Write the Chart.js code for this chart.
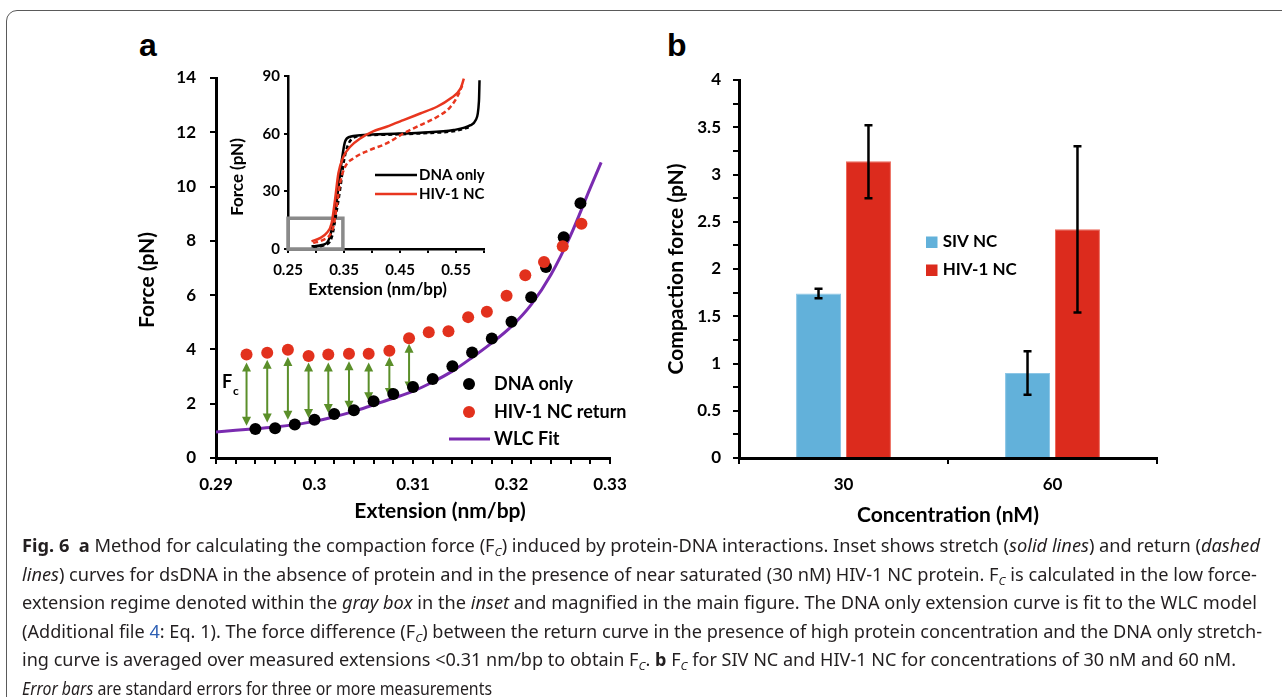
<!DOCTYPE html>
<html>
<head>
<meta charset="utf-8">
<script src="https://cdn.jsdelivr.net/npm/chart.js@4.4.0/dist/chart.umd.min.js"></script>
<style>
body { margin: 0; background: #fff; width: 1282px; height: 697px; overflow: hidden; position: relative; font-family: 'Noto Sans', sans-serif; }
.frame { position: absolute; left: 6px; top: 10px; width: 1310px; height: 730px; border: 1.5px solid #5a5a5a; border-radius: 11px; box-sizing: border-box; }
canvas { position: absolute; }
.panel { position: absolute; font: bold 32px 'Liberation Sans', Arial, sans-serif; line-height: 32px; color: #000; }
.cap { position: absolute; left: 22px; white-space: nowrap; font-size: 17.5px; line-height: 28px; transform-origin: 0 50%; color: #231f20; }
.cap .sub { font-size: 11.5px; font-style: italic; position: relative; top: 4px; }
.cap .lnk { color: #2d5fb4; }
</style>
</head>
<body>
<div class="frame"></div>
<div class="panel" style="left:139px;top:29px">a</div>
<div class="panel" style="left:667px;top:29px">b</div>

<canvas id="chartA" width="650" height="540" style="left:0;top:0"></canvas>
<canvas id="inset" width="300" height="250" style="left:200px;top:60px"></canvas>
<canvas id="chartB" width="560" height="500" style="left:640px;top:40px"></canvas>

<div class="cap" data-w="1238" style="top:531px"><b>Fig. 6</b>&nbsp; <b>a</b> Method for calculating the compaction force (F<span class="sub">C</span>) induced by protein-DNA interactions. Inset shows stretch (<i>solid lines</i>) and return (<i>dashed</i></div>
<div class="cap" data-w="1235" style="top:559.5px"><i>lines</i>) curves for dsDNA in the absence of protein and in the presence of near saturated (30 nM) HIV-1 NC protein. F<span class="sub">C</span> is calculated in the low force-</div>
<div class="cap" data-w="1235" style="top:588px">extension regime denoted within the <i>gray box</i> in the <i>inset</i> and magnified in the main figure. The DNA only extension curve is fit to the WLC model</div>
<div class="cap" data-w="1240" style="top:616.5px">(Additional file <span class="lnk">4</span>: Eq. 1). The force difference (F<span class="sub">C</span>) between the return curve in the presence of high protein concentration and the DNA only stretch-</div>
<div class="cap" data-w="1214" style="top:645px">ing curve is averaged over measured extensions &lt;0.31 nm/bp to obtain F<span class="sub">C</span>. <b>b</b> F<span class="sub">C</span> for SIV NC and HIV-1 NC for concentrations of 30 nM and 60 nM.</div>
<div class="cap" data-w="470" style="top:673.5px"><i>Error bars</i> are standard errors for three or more measurements</div>

<script>
// panel a: low force region
const dnaX = [0.294, 0.296, 0.298, 0.300, 0.302, 0.304, 0.306, 0.308, 0.310, 0.312, 0.314, 0.316, 0.318, 0.320, 0.322, 0.3235, 0.3253, 0.327];
const dnaForce = [1.07, 1.10, 1.23, 1.41, 1.62, 1.76, 2.09, 2.36, 2.62, 2.91, 3.38, 3.89, 4.40, 5.02, 5.92, 7.04, 8.13, 9.39];
const ncX = [0.2931, 0.2952, 0.2973, 0.2994, 0.3014, 0.3035, 0.3055, 0.3076, 0.3096, 0.3116, 0.3136, 0.3156, 0.3175, 0.3195, 0.3214, 0.3233, 0.3252, 0.3271];
const ncForce = [3.81, 3.88, 3.99, 3.76, 3.81, 3.84, 3.84, 3.95, 4.41, 4.63, 4.67, 5.19, 5.39, 5.98, 6.73, 7.22, 7.80, 8.63];
const wlcX = [0.290, 0.292, 0.294, 0.296, 0.298, 0.300, 0.302, 0.304, 0.306, 0.308, 0.310, 0.312, 0.314, 0.316, 0.318, 0.320, 0.322, 0.324, 0.326, 0.328, 0.3291];
const wlcForce = [0.96, 1.02, 1.08, 1.14, 1.23, 1.35, 1.52, 1.72, 1.96, 2.20, 2.46, 2.80, 3.20, 3.70, 4.24, 4.85, 5.65, 6.75, 8.20, 9.95, 10.89];
// F_c arrows (ends), one per low-extension return point
const fcTop = [3.52, 3.62, 3.72, 3.52, 3.52, 3.56, 3.52, 3.72, 4.21];
const fcBottom = [1.19, 1.31, 1.41, 1.47, 1.66, 1.78, 2.09, 2.25, 2.49];

// inset: full stretch / return curves
const dnaStretchX = [0.292, 0.313, 0.325, 0.334, 0.340, 0.346, 0.352, 0.361, 0.379, 0.426, 0.486, 0.546, 0.576, 0.585, 0.591, 0.592];
const dnaStretchF = [1.4, 2.2, 6.4, 20, 32, 46, 56, 58.4, 59.2, 59.8, 60.5, 61.9, 64.4, 67, 77, 87.8];
const dnaReturnX = [0.295, 0.315, 0.328, 0.337, 0.344, 0.350, 0.357, 0.367, 0.385, 0.430, 0.490, 0.550, 0.575];
const dnaReturnF = [1.2, 2.0, 6.0, 20, 33, 46, 54, 57.8, 59.0, 59.5, 60.2, 61.5, 63.5];
const hivStretchX = [0.292, 0.307, 0.319, 0.328, 0.334, 0.340, 0.349, 0.361, 0.379, 0.402, 0.426, 0.456, 0.486, 0.516, 0.540, 0.558, 0.564];
const hivStretchF = [4.0, 5.7, 8.3, 13.5, 25.6, 39.4, 48, 53.2, 57.5, 61.2, 63.6, 67, 70.5, 74, 78.3, 83.4, 88.6];
const hivReturnX = [0.295, 0.313, 0.325, 0.331, 0.337, 0.343, 0.352, 0.367, 0.396, 0.426, 0.456, 0.486, 0.516, 0.540, 0.555, 0.561];
const hivReturnF = [3.1, 4.8, 7.4, 11.7, 22, 34.2, 42.8, 47.2, 51.5, 54.9, 60.1, 64.4, 68.7, 73.9, 80.8, 85.1];
const boxX = [0.25, 0.348];
const boxForce = [0, 16];

// panel b
const concentrations = ['30', '60'];
const sivForce = [1.74, 0.90];
const hivForce = [3.14, 2.42];
const sivErrLow = [1.69, 0.67];
const sivErrHigh = [1.79, 1.13];
const hivErrLow = [2.75, 1.54];
const hivErrHigh = [3.52, 3.30];

const RED = '#e2311d';
const PURPLE = '#7a2bb0';
const GREEN = '#5b8f2a';
const BLUE_BAR = '#62b1da';
const RED_BAR = '#dc2b1d';

Chart.defaults.font.family = 'Lato';
Chart.defaults.font.weight = 'bold';
Chart.defaults.color = '#000';

const pts = (xs, ys) => xs.map((x, i) => ({ x: x, y: ys[i] }));

function axisStyle(tickLen, borderW) {
    return {
        grid: { drawOnChartArea: false, color: '#000', lineWidth: 2, tickLength: tickLen },
        border: { color: '#000', width: borderW }
    };
}

function rotatedText(ctx, text, x, y) {
    ctx.save();
    ctx.translate(x, y);
    ctx.rotate(-Math.PI / 2);
    ctx.textAlign = 'center';
    ctx.textBaseline = 'middle';
    ctx.fillText(text, 0, 0);
    ctx.restore();
}

const annotA = {
    id: 'annotA',
    beforeDatasetsDraw(chart) {
        const { ctx, scales: { x, y } } = chart;
        ctx.save();
        ctx.strokeStyle = GREEN;
        ctx.fillStyle = GREEN;
        ctx.lineWidth = 2;
        const head = (px, py, dir) => {
            ctx.beginPath();
            ctx.moveTo(px, py);
            ctx.lineTo(px - 4.5, py + dir * 9);
            ctx.lineTo(px + 4.5, py + dir * 9);
            ctx.closePath();
            ctx.fill();
        };
        fcTop.forEach((top, i) => {
            const px = x.getPixelForValue(ncX[i]);
            const y1 = y.getPixelForValue(top);
            const y2 = y.getPixelForValue(fcBottom[i]);
            ctx.beginPath();
            ctx.moveTo(px, y1 + 8);
            ctx.lineTo(px, y2 - 8);
            ctx.stroke();
            head(px, y1, 1);
            head(px, y2, -1);
        });
        ctx.restore();
    },
    afterDraw(chart) {
        const ctx = chart.ctx;
        ctx.save();
        ctx.fillStyle = '#000';
        ctx.font = 'bold 21px Lato';
        ctx.textAlign = 'center';
        ctx.textBaseline = 'middle';
        ctx.fillText('Extension (nm/bp)', 440, 511);
        rotatedText(ctx, 'Force (pN)', 147, 280);

        // F_c label
        ctx.textAlign = 'left';
        ctx.font = 'bold 18px Lato';
        ctx.fillText('F', 222, 382);
        ctx.font = 'bold 12px Lato';
        ctx.fillText('c', 233, 391);

        // legend
        ctx.font = 'bold 18px Lato';
        ctx.beginPath();
        ctx.arc(469, 384, 6, 0, Math.PI * 2);
        ctx.fill();
        ctx.fillText('DNA only', 494, 384);
        ctx.fillStyle = RED;
        ctx.beginPath();
        ctx.arc(469, 412, 6, 0, Math.PI * 2);
        ctx.fill();
        ctx.fillStyle = '#000';
        ctx.fillText('HIV-1 NC return', 494, 412);
        ctx.strokeStyle = PURPLE;
        ctx.lineWidth = 3;
        ctx.beginPath();
        ctx.moveTo(449, 439);
        ctx.lineTo(490, 439);
        ctx.stroke();
        ctx.fillText('WLC Fit', 494, 439);
        ctx.restore();
    }
};

new Chart(document.getElementById('chartA'), {
    type: 'scatter',
    data: {
        datasets: [
            { label: 'HIV-1 NC return', data: pts(ncX, ncForce), backgroundColor: RED, borderWidth: 0, pointRadius: 6 },
            { label: 'DNA only', data: pts(dnaX, dnaForce), backgroundColor: '#000', borderWidth: 0, pointRadius: 6 },
            { label: 'WLC Fit', data: pts(wlcX, wlcForce), showLine: true, borderColor: PURPLE, borderWidth: 3, pointRadius: 0, cubicInterpolationMode: 'monotone' }
        ]
    },
    options: {
        responsive: false,
        animation: false,
        layout: { padding: { left: 136, top: 78, right: 40, bottom: 22 } },
        plugins: { legend: { display: false }, tooltip: { enabled: false } },
        scales: {
            x: {
                type: 'linear', min: 0.29, max: 0.33,
                ...axisStyle(6, 3),
                ticks: {
                    stepSize: 0.002, autoSkip: false, maxRotation: 0, padding: 10,
                    font: { size: 17 },
                    callback: v => { const k = Math.round(v * 1000); return k % 10 === 0 ? String(k / 1000) : ''; }
                },
                afterFit: s => { s.height = 60; }
            },
            y: {
                min: 0, max: 14,
                ...axisStyle(6, 3),
                ticks: { stepSize: 2, padding: 14, font: { size: 17 } },
                afterFit: s => { s.width = 80; }
            }
        }
    },
    plugins: [annotA]
});

const annotInset = {
    id: 'annotInset',
    beforeDatasetsDraw(chart) {
        const { ctx, scales: { x, y } } = chart;
        const x0 = x.getPixelForValue(boxX[0]), x1 = x.getPixelForValue(boxX[1]);
        const y0 = y.getPixelForValue(boxForce[0]), y1 = y.getPixelForValue(boxForce[1]);
        ctx.save();
        ctx.strokeStyle = '#8a8a8a';
        ctx.lineWidth = 3.5;
        ctx.strokeRect(x0, y1, x1 - x0, y0 - y1);
        ctx.restore();
    },
    afterDraw(chart) {
        const ctx = chart.ctx;
        ctx.save();
        ctx.fillStyle = '#000';
        ctx.font = 'bold 17px Lato';
        ctx.textAlign = 'center';
        ctx.textBaseline = 'middle';
        ctx.fillText('Extension (nm/bp)', 177.5, 230);
        rotatedText(ctx, 'Force (pN)', 38, 117);
        ctx.textAlign = 'left';
        ctx.font = 'bold 15px Lato';
        ctx.lineWidth = 2.5;
        ctx.strokeStyle = '#000';
        ctx.beginPath(); ctx.moveTo(175, 115); ctx.lineTo(217, 115); ctx.stroke();
        ctx.fillText('DNA only', 219, 115);
        ctx.strokeStyle = '#e8361f';
        ctx.beginPath(); ctx.moveTo(175, 134); ctx.lineTo(217, 134); ctx.stroke();
        ctx.fillText('HIV-1 NC', 219, 134);
        ctx.restore();
    }
};

const curve = (xs, ys, color, dash) => ({
    data: pts(xs, ys), showLine: true, borderColor: color, borderWidth: 2.5, borderDash: dash,
    pointRadius: 0, cubicInterpolationMode: 'monotone'
});

new Chart(document.getElementById('inset'), {
    type: 'scatter',
    data: {
        datasets: [
            curve(hivStretchX, hivStretchF, '#e8361f', []),
            curve(hivReturnX, hivReturnF, '#e8361f', [5, 3]),
            curve(dnaStretchX, dnaStretchF, '#000', []),
            curve(dnaReturnX, dnaReturnF, '#000', [4, 3])
        ]
    },
    options: {
        responsive: false,
        animation: false,
        layout: { padding: { left: 48, top: 16, right: 16, bottom: 21 } },
        plugins: { legend: { display: false }, tooltip: { enabled: false } },
        scales: {
            x: {
                type: 'linear', min: 0.25, max: 0.6,
                ...axisStyle(4, 2.5),
                ticks: {
                    stepSize: 0.05, autoSkip: false, maxRotation: 0, padding: 8,
                    font: { size: 15 },
                    callback: v => { const k = Math.round(v * 100); return k % 10 === 5 ? (k / 100).toFixed(2) : ''; }
                },
                afterFit: s => { s.height = 40; }
            },
            y: {
                min: 0, max: 90,
                ...axisStyle(4, 2.5),
                ticks: { stepSize: 30, padding: 4, font: { size: 15 } },
                afterFit: s => { s.width = 40; }
            }
        }
    },
    plugins: [annotInset]
});

const annotB = {
    id: 'annotB',
    afterDatasetsDraw(chart) {
        const { ctx, scales: { y } } = chart;
        const errs = [[sivErrLow, sivErrHigh], [hivErrLow, hivErrHigh]];
        ctx.save();
        ctx.strokeStyle = '#000';
        ctx.lineWidth = 2.5;
        errs.forEach(([lo, hi], d) => {
            chart.getDatasetMeta(d).data.forEach((bar, i) => {
                const yl = y.getPixelForValue(lo[i]);
                const yh = y.getPixelForValue(hi[i]);
                ctx.beginPath();
                ctx.moveTo(bar.x, yl); ctx.lineTo(bar.x, yh);
                ctx.moveTo(bar.x - 4, yl); ctx.lineTo(bar.x + 4, yl);
                ctx.moveTo(bar.x - 4, yh); ctx.lineTo(bar.x + 4, yh);
                ctx.stroke();
            });
        });
        ctx.restore();
    },
    afterDraw(chart) {
        const ctx = chart.ctx;
        ctx.save();
        ctx.fillStyle = '#000';
        ctx.font = 'bold 21px Lato';
        ctx.textAlign = 'center';
        ctx.textBaseline = 'middle';
        ctx.fillText('Concentration (nM)', 308, 475);
        rotatedText(ctx, 'Compaction force (pN)', 36.7, 229);
        ctx.textAlign = 'left';
        ctx.font = 'bold 17px Lato';
        ctx.fillStyle = BLUE_BAR;
        ctx.fillRect(286, 196.5, 11.5, 11.5);
        ctx.fillStyle = RED_BAR;
        ctx.fillRect(286, 224.5, 11.5, 11.5);
        ctx.fillStyle = '#000';
        ctx.fillText('SIV NC', 302.7, 202);
        ctx.fillText('HIV-1 NC', 302.7, 230);
        ctx.restore();
    }
};

new Chart(document.getElementById('chartB'), {
    type: 'bar',
    data: {
        labels: concentrations,
        datasets: [
            { label: 'SIV NC', data: sivForce, backgroundColor: BLUE_BAR, borderColor: '#8cc6e6', borderWidth: 1, categoryPercentage: 0.478, barPercentage: 0.9 },
            { label: 'HIV-1 NC', data: hivForce, backgroundColor: RED_BAR, borderColor: '#ec6a5c', borderWidth: 1, categoryPercentage: 0.478, barPercentage: 0.9 }
        ]
    },
    options: {
        responsive: false,
        animation: false,
        layout: { padding: { left: 39, top: 40, right: 43, bottom: 32 } },
        plugins: { legend: { display: false }, tooltip: { enabled: false } },
        scales: {
            x: {
                ...axisStyle(6, 3),
                grid: { drawOnChartArea: false, color: '#000', lineWidth: 2, tickLength: 6, offset: true },
                ticks: { padding: 10, font: { size: 17 } },
                afterFit: s => { s.height = 50; }
            },
            y: {
                min: 0, max: 4,
                ...axisStyle(6, 3),
                ticks: {
                    stepSize: 0.25, autoSkip: false, padding: 12, font: { size: 17 },
                    callback: v => (Math.round(v * 4) % 2 === 0 ? String(v) : '')
                },
                afterFit: s => { s.width = 60; }
            }
        }
    },
    plugins: [annotB]
});

// caption: squeeze each line to the width it has in the figure
document.querySelectorAll('.cap').forEach(el => {
    const w = el.getBoundingClientRect().width;
    el.style.transform = 'scaleX(' + (Number(el.dataset.w) / w) + ')';
});
</script>
</body>
</html>
